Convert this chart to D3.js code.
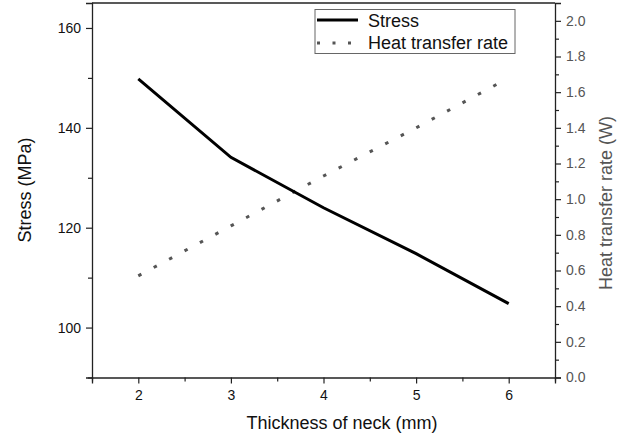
<!DOCTYPE html>
<meta charset="utf-8">
<title>Stress and heat transfer vs neck thickness</title>
<script src="https://d3js.org/d3.v7.min.js"></script>
<style>
  body { margin: 0; background: #fff; }
  text { font-family: Arial, "Liberation Sans", sans-serif; }
</style>
<body>
<svg width="624" height="439"></svg>
<script>

// values
var thickness = [2, 3, 4, 5, 6];
var stress = [149.8, 134.1, 124.0, 114.8, 104.8];
var heatRate = [0.57, 0.85, 1.13, 1.40, 1.68];

var stressTicks = [100, 120, 140, 160];
var heatTicks = [0, 0.2, 0.4, 0.6, 0.8, 1.0, 1.2, 1.4, 1.6, 1.8, 2.0];

var svg = d3.select("svg");
// plot box (note: "top" is reserved on window, so use plot* names)
var plotL = 92, plotR = 555, plotT = 3, plotB = 377.5;

var x = d3.scaleLinear().domain([1.5, 6.5]).range([plotL, plotR]);
var yL = d3.scaleLinear().domain([90, 165]).range([plotB, plotT]);
var yR = d3.scaleLinear().domain([0, 2.1]).range([plotB, plotT]);

// frame top line
svg.append("line")
    .attr("x1", plotL).attr("x2", plotR)
    .attr("y1", plotT).attr("y2", plotT)
    .attr("stroke", "#222").attr("stroke-width", 1.3);

// x axis
var xAxis = svg.append("g")
    .attr("transform", "translate(0," + plotB + ")")
    .call(d3.axisBottom(x).tickValues(thickness).tickSize(6).tickPadding(7).tickFormat(d3.format("d")));
svg.append("g")
    .attr("transform", "translate(0," + plotB + ")")
    .call(d3.axisBottom(x).tickValues([1.5, 2.5, 3.5, 4.5, 5.5, 6.5]).tickSize(4).tickFormat(""))
    .select(".domain").remove();

// left axis
var lAxis = svg.append("g")
    .attr("transform", "translate(" + plotL + ",0)")
    .call(d3.axisLeft(yL).tickValues(stressTicks).tickSize(6).tickPadding(5));
svg.append("g")
    .attr("transform", "translate(" + plotL + ",0)")
    .call(d3.axisLeft(yL).tickValues([90, 110, 130, 150]).tickSize(4).tickFormat(""))
    .select(".domain").remove();

// right axis
var rAxis = svg.append("g")
    .attr("transform", "translate(" + plotR + ",0)")
    .call(d3.axisRight(yR).tickValues(heatTicks).tickSize(6).tickPadding(5).tickFormat(d3.format(".1f")));
svg.append("g")
    .attr("transform", "translate(" + plotR + ",0)")
    .call(d3.axisRight(yR).tickValues(d3.range(0.1, 2.1, 0.2)).tickSize(4).tickFormat(""))
    .select(".domain").remove();

svg.selectAll(".domain").attr("stroke", "#222").attr("stroke-width", 1.3);
svg.selectAll(".tick line").attr("stroke", "#222").attr("stroke-width", 1.2);
svg.selectAll(".tick text").attr("font-size", 14).attr("fill", "#111");
rAxis.selectAll(".tick text").attr("fill", "#555");

// axis titles
svg.append("text")
    .attr("x", 342).attr("y", 429)
    .attr("text-anchor", "middle").attr("font-size", 18).attr("fill", "#111")
    .text("Thickness of neck (mm)");
svg.append("text")
    .attr("transform", "translate(31,190) rotate(-90)")
    .attr("text-anchor", "middle").attr("font-size", 18).attr("fill", "#111")
    .text("Stress (MPa)");
svg.append("text")
    .attr("transform", "translate(612,203) rotate(-90)")
    .attr("text-anchor", "middle").attr("font-size", 18).attr("fill", "#555")
    .text("Heat transfer rate (W)");

// lines
var stressLine = d3.line()
    .x(function(d, i) { return x(thickness[i]); })
    .y(function(d) { return yL(d); });
var heatLine = d3.line()
    .x(function(d, i) { return x(thickness[i]); })
    .y(function(d) { return yR(d); });

svg.append("path")
    .datum(heatRate)
    .attr("d", heatLine)
    .attr("fill", "none")
    .attr("stroke", "#555")
    .attr("stroke-width", 3)
    .attr("stroke-dasharray", "3.5,14");

svg.append("path")
    .datum(stress)
    .attr("d", stressLine)
    .attr("fill", "none")
    .attr("stroke", "#000")
    .attr("stroke-width", 3);

// legend
var legend = svg.append("g");
legend.append("rect")
    .attr("x", 315).attr("y", 9.5).attr("width", 200).attr("height", 44)
    .attr("fill", "#fff").attr("stroke", "#666").attr("stroke-width", 1);
legend.append("line")
    .attr("x1", 317).attr("x2", 358).attr("y1", 20).attr("y2", 20)
    .attr("stroke", "#000").attr("stroke-width", 3);
legend.append("line")
    .attr("x1", 317).attr("x2", 358).attr("y1", 43).attr("y2", 43)
    .attr("stroke", "#555").attr("stroke-width", 3).attr("stroke-dasharray", "3,12.5");
legend.append("text")
    .attr("x", 368).attr("y", 26.5).attr("font-size", 18).attr("fill", "#111").text("Stress");
legend.append("text")
    .attr("x", 368).attr("y", 49).attr("font-size", 18).attr("fill", "#111").text("Heat transfer rate");

</script>
</body>
